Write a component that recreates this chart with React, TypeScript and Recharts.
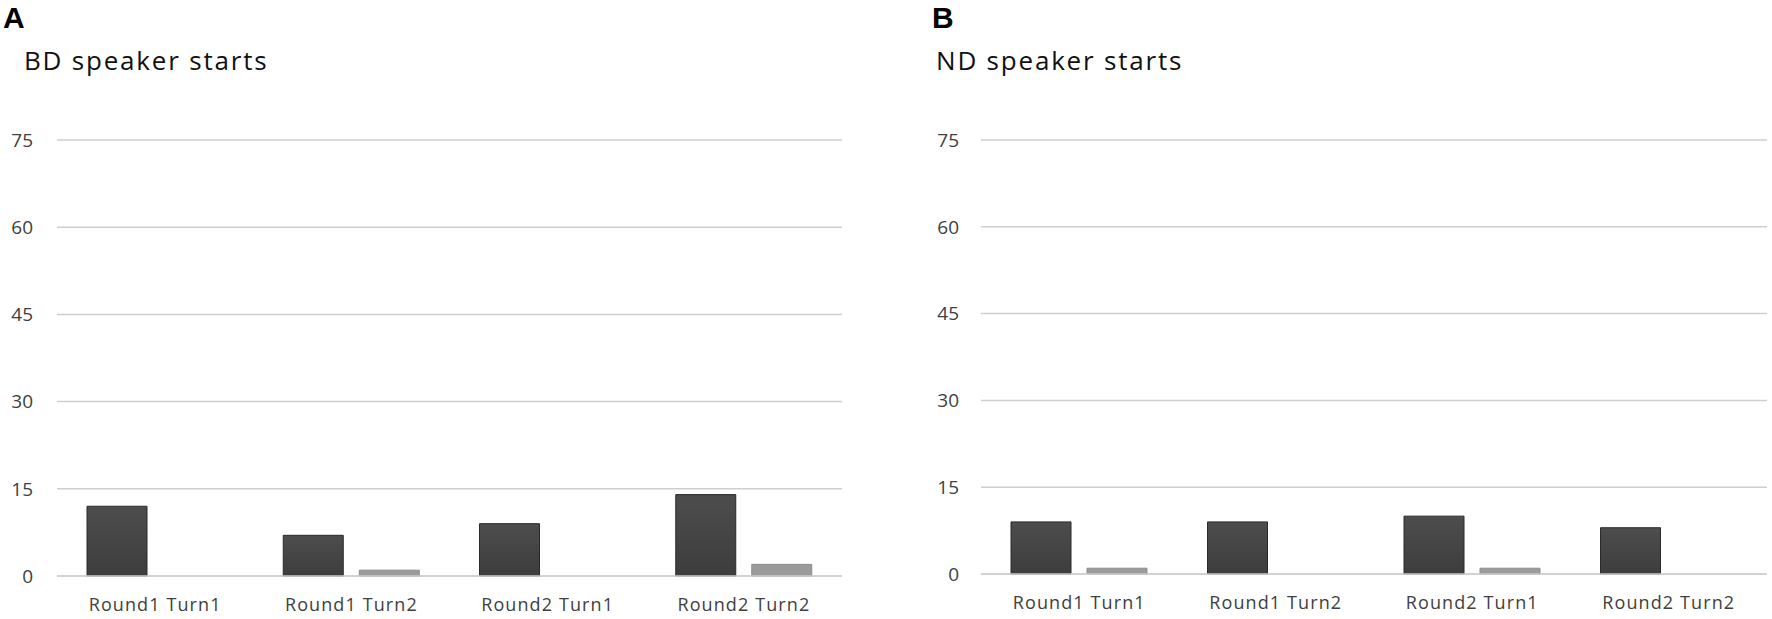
import { BarChart, Bar, XAxis, YAxis, CartesianGrid } from 'recharts';

const categories = ['Round1 Turn1', 'Round1 Turn2', 'Round2 Turn1', 'Round2 Turn2'];
const yTicks = [0, 15, 30, 45, 60, 75];

// BD speaker starts
const bdDark = [12, 7, 9, 14];
const bdLight = [0, 1, 0, 2];

// ND speaker starts
const ndDark = [9, 9, 10, 8];
const ndLight = [1, 0, 1, 0];

const buildRows = (dark: number[], light: number[]) =>
  categories.map((name, i) => ({ name, dark: dark[i], light: light[i] }));

const yTickStyle = { fill: '#404040', fontSize: 19, fontFamily: 'Open Sans' };
const xTickStyle = { fill: '#404040', fontSize: 18, fontFamily: 'Open Sans', letterSpacing: 1.1 };

type PanelProps = {
  id: string;
  letter: string;
  title: string;
  left: number;
  width: number;
  yAxisWidth: number;
  tickGap: number;
  marginRight: number;
  xAxisHeight: number;
  letterX: number;
  titleX: number;
  dark: number[];
  light: number[];
};

const Panel = (p: PanelProps) => {
  const rows = buildRows(p.dark, p.light);
  return (
    <div style={{ position: 'absolute', left: p.left, top: 0, width: p.width, height: 619 }}>
      <div
        style={{
          position: 'absolute',
          left: p.letterX,
          top: 1,
          fontFamily: 'Liberation Sans',
          fontWeight: 'bold',
          fontSize: 30,
          color: '#000',
        }}
      >
        {p.letter}
      </div>
      <div
        style={{
          position: 'absolute',
          left: p.titleX,
          top: 42,
          fontFamily: 'Open Sans',
          fontSize: 26,
          letterSpacing: 1.8,
          color: '#111',
          whiteSpace: 'nowrap',
        }}
      >
        {p.title}
      </div>
      <BarChart
        width={p.width}
        height={619}
        data={rows}
        margin={{ top: 140, right: p.marginRight, left: 0, bottom: 0 }}
        barCategoryGap={30}
        barGap={16}
      >
        <defs>
          <linearGradient id={`dark-${p.id}`} x1="0" y1="0" x2="0" y2="1">
            <stop offset="0%" stopColor="#4d4d4d" />
            <stop offset="100%" stopColor="#3d3d3d" />
          </linearGradient>
        </defs>
        <CartesianGrid vertical={false} stroke="#cfcfcf" strokeWidth={1.5} />
        <XAxis
          dataKey="name"
          height={p.xAxisHeight}
          tickLine={false}
          axisLine={{ stroke: '#cfcfcf', strokeWidth: 1.5 }}
          tickSize={0}
          tickMargin={22}
          tick={xTickStyle}
          interval={0}
        />
        <YAxis
          domain={[0, 75]}
          ticks={yTicks}
          width={p.yAxisWidth}
          axisLine={false}
          tickLine={false}
          tickSize={0}
          tickMargin={p.tickGap}
          tick={yTickStyle}
        />
        <Bar dataKey="dark" fill={`url(#dark-${p.id})`} stroke="#2a2a2a" strokeWidth={1} isAnimationActive={false} />
        <Bar dataKey="light" fill="#9b9b9b" stroke="#8c8c8c" strokeWidth={1} isAnimationActive={false} />
      </BarChart>
    </div>
  );
};

export default function App() {
  return (
    <div style={{ position: 'absolute', left: 0, top: 0, width: 1772, height: 619, background: '#fff' }}>
      <Panel
        id="bd"
        letter="A"
        title="BD speaker starts"
        left={0}
        width={860}
        yAxisWidth={57}
        tickGap={24}
        marginRight={18}
        xAxisHeight={43}
        letterX={3}
        titleX={24}
        dark={bdDark}
        light={bdLight}
      />
      <Panel
        id="nd"
        letter="B"
        title="ND speaker starts"
        left={886}
        width={886}
        yAxisWidth={95}
        tickGap={22}
        marginRight={5}
        xAxisHeight={45}
        letterX={46}
        titleX={50}
        dark={ndDark}
        light={ndLight}
      />
    </div>
  );
}
